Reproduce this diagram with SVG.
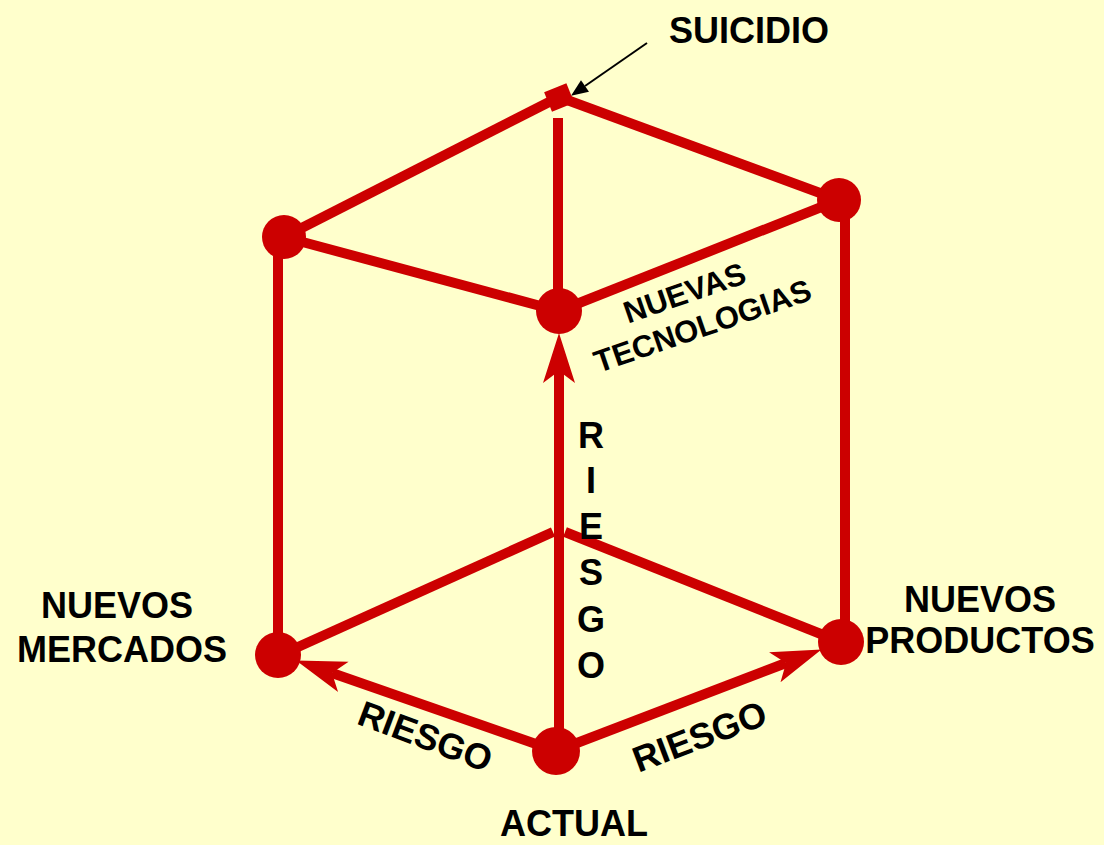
<svg xmlns="http://www.w3.org/2000/svg" width="1104" height="845" viewBox="0 0 1104 845">
<defs>
<style>
.edge{stroke:#CC0000;stroke-width:10;fill:none;stroke-linecap:butt}
.dot{fill:#CC0000}
.lbl{font-family:"Liberation Sans",Arial,sans-serif;font-weight:bold;fill:#000;font-size:36px;text-anchor:middle}
.small{font-size:31px}
.risk{font-size:36px}
</style>
<marker id="redhead" markerUnits="userSpaceOnUse" markerWidth="60" markerHeight="40" refX="0" refY="0" orient="auto" overflow="visible">
<path d="M38,0 L-12,-16 L0,0 L-12,16 Z" fill="#CC0000"/>
</marker>
<marker id="blackhead" markerUnits="userSpaceOnUse" markerWidth="30" markerHeight="20" refX="0" refY="0" orient="auto" overflow="visible">
<path d="M17,0 L0,-7 L0,7 Z" fill="#000"/>
</marker>
</defs>
<rect x="0" y="0" width="1104" height="845" fill="#FFFFCC"/>
<g id="connectors">
<line class="edge" x1="284" y1="237" x2="559" y2="97"/>
<line class="edge" x1="559" y1="97" x2="839" y2="200"/>
<line class="edge" x1="284" y1="237" x2="559" y2="311"/>
<line class="edge" x1="559" y1="311" x2="839" y2="200"/>
<line class="edge" x1="558" y1="118" x2="558" y2="311"/>
<line class="edge" x1="278" y1="237" x2="278" y2="656"/>
<line class="edge" x1="845" y1="200" x2="845" y2="642"/>
<line class="edge" x1="278" y1="656" x2="553" y2="532"/>
<line class="edge" x1="565" y1="532" x2="841" y2="642"/>
<line class="edge" x1="559" y1="751" x2="559" y2="371" marker-end="url(#redhead)"/>
<line class="edge" x1="556" y1="751" x2="332" y2="673" marker-end="url(#redhead)"/>
<line class="edge" x1="556" y1="751" x2="786" y2="663" marker-end="url(#redhead)"/>
<line x1="647" y1="43" x2="585" y2="86" stroke="#000" stroke-width="2" marker-end="url(#blackhead)"/>
<g id="riesgo-vertical" class="lbl">
<text x="591" y="448">R</text>
<text x="591" y="493">I</text>
<text x="591" y="539">E</text>
<text x="591" y="585">S</text>
<text x="591" y="632">G</text>
<text x="591" y="678">O</text>
</g>
<text class="lbl risk" transform="translate(421,748) rotate(20.5)">RIESGO</text>
<text class="lbl risk" transform="translate(704,748) rotate(-20.7)">RIESGO</text>
</g>
<g id="node-suicidio">
<rect class="dot" x="547" y="87" width="24" height="21" transform="rotate(-22 559 97)"/>
<text class="lbl" x="749" y="43">SUICIDIO</text>
</g>
<g id="node-top-left">
<circle class="dot" cx="284" cy="237" r="22"/>
</g>
<g id="node-top-right">
<circle class="dot" cx="839" cy="200" r="22"/>
</g>
<g id="node-tecnologias">
<circle class="dot" cx="559" cy="311" r="23"/>
<text class="lbl small" transform="translate(688,303) rotate(-19)">NUEVAS</text>
<text class="lbl small" transform="translate(706,336) rotate(-19)">TECNOLOGIAS</text>
</g>
<g id="node-mercados">
<circle class="dot" cx="278" cy="655" r="23"/>
<text class="lbl" x="117" y="618">NUEVOS</text>
<text class="lbl" x="122" y="662">MERCADOS</text>
</g>
<g id="node-productos">
<circle class="dot" cx="841" cy="642" r="23"/>
<text class="lbl" x="980" y="612">NUEVOS</text>
<text class="lbl" x="980" y="653">PRODUCTOS</text>
</g>
<g id="node-actual">
<circle class="dot" cx="556" cy="751" r="24"/>
<text class="lbl" x="574" y="836">ACTUAL</text>
</g>
</svg>
